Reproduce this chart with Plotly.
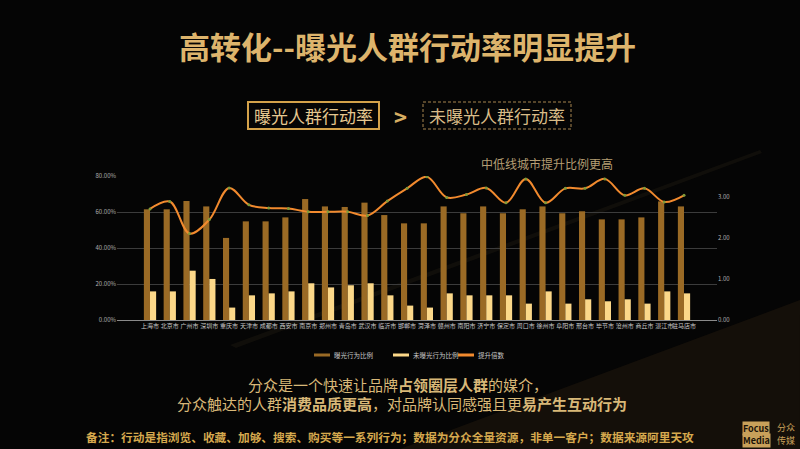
import plotly.graph_objects as go

# city names along the x axis
cities = [
    "上海市", "北京市", "广州市", "深圳市", "重庆市", "天津市", "成都市",
    "西安市", "南京市", "郑州市", "青岛市", "武汉市", "临沂市", "邯郸市",
    "菏泽市", "赣州市", "南阳市", "济宁市", "保定市", "周口市", "徐州市",
    "阜阳市", "邢台市", "毕节市", "沧州市", "商丘市", "湛江市", "驻马店市",
]

# 曝光行为比例 (%)
exposed = [
    61.5, 61.5, 66.1, 63.1, 45.6, 54.8, 54.8, 57.0, 67.2, 63.1, 62.8, 65.2, 58.3, 53.7,
    53.7, 63.1, 59.3, 63.1, 59.3, 61.5, 63.1, 59.3, 60.4, 55.9, 55.9, 57.0, 65.9, 63.1,
]

# 未曝光行为比例 (%)
unexposed = [
    15.9, 15.9, 27.4, 22.8, 6.9, 13.7, 14.8, 15.9, 20.4, 18.1, 19.3, 20.4, 13.7, 8.0,
    6.9, 14.8, 13.7, 13.7, 13.7, 9.1, 15.9, 9.1, 11.5, 10.4, 11.5, 9.1, 15.9, 14.8,
]

# 提升倍数
lift = [
    2.70, 2.88, 2.10, 2.44, 3.21, 2.80, 2.72, 2.71, 2.63, 2.63, 2.63, 2.54, 2.89, 3.20,
    3.48, 2.98, 3.05, 3.21, 2.85, 3.43, 2.85, 3.20, 3.20, 3.43, 3.03, 3.20, 2.87, 3.03,
]

left_ticks = [0, 20, 40, 60, 80]
right_ticks = [0, 1, 2, 3]
series_names = ["曝光行为比例", "未曝光行为比例", "提升倍数"]

DARK_GOLD = "#9A6A25"
LIGHT_GOLD = "#FCD889"
ORANGE = "#F28A2E"
FONT = "Noto Sans CJK SC"

# plot area in page pixels (paper coords are relative to it)
PL, PR, PT, PB = 117, 717, 176, 320


def px(x):
    return (x - PL) / (PR - PL)


def py(y):
    return (PB - y) / (PB - PT)


fig = go.Figure()

fig.add_trace(go.Bar(
    x=cities, y=exposed, name=series_names[0],
    marker=dict(color=DARK_GOLD, line=dict(width=0)),
))
fig.add_trace(go.Bar(
    x=cities, y=unexposed, name=series_names[1],
    marker=dict(color=LIGHT_GOLD, line=dict(width=0)),
))
fig.add_trace(go.Scatter(
    x=cities, y=lift, name=series_names[2], yaxis="y2",
    mode="lines+markers",
    line=dict(color=ORANGE, width=2, shape="spline", smoothing=1.0),
    marker=dict(color="#7E9A3A", size=3),
))


def poly(points):
    return "M " + " L ".join(f"{px(x):.4f} {py(y):.4f}" for x, y in points) + " Z"


shapes = [
    # warm glow bottom right
    dict(type="path", xref="paper", yref="paper", layer="below",
         path=poly([(400, 449), (800, 300), (800, 449)]),
         fillcolor="rgba(110,80,35,0.14)", line=dict(width=0)),
    # faint light streak
    dict(type="path", xref="paper", yref="paper", layer="below",
         path=poly([(230, 345), (760, 150), (762, 153), (236, 348)]),
         fillcolor="rgba(200,170,110,0.06)", line=dict(width=0)),
    # boxes around the comparison labels
    dict(type="rect", xref="paper", yref="paper",
         x0=px(248), x1=px(379), y0=py(129), y1=py(102),
         line=dict(color="#D4A24A", width=2), fillcolor="rgba(0,0,0,0)"),
    dict(type="rect", xref="paper", yref="paper",
         x0=px(423), x1=px(571), y0=py(129), y1=py(102),
         line=dict(color="#A88650", width=1, dash="3px,2px"), fillcolor="rgba(0,0,0,0)"),
]

# hand-drawn legend: thin line icons like the original
legend_x = [314, 393, 458]
legend_colors = [DARK_GOLD, LIGHT_GOLD, ORANGE]
for lx, col in zip(legend_x, legend_colors):
    shapes.append(dict(type="line", xref="paper", yref="paper",
                       x0=px(lx), x1=px(lx + 16), y0=py(355), y1=py(355),
                       line=dict(color=col, width=3)))


def ann(text, x, y, size, color, bold=False, xanchor="center", **kw):
    if bold:
        text = f"<b>{text}</b>"
    return dict(text=text, x=px(x), y=py(y), xref="paper", yref="paper",
                xanchor=xanchor, yanchor="middle",
                showarrow=False, font=dict(size=size, color=color, family=FONT), **kw)


annotations = [
    ann("高转化--曝光人群行动率明显提升", 407, 45, 31, "#DDB46C", bold=True),
    ann("曝光人群行动率", 313, 116, 17, "#E6C890"),
    ann(">", 400, 116, 22, "#D8AE62", bold=True),
    ann("未曝光人群行动率", 497, 116, 17, "#D9BC88"),
    ann("中低线城市提升比例更高", 547, 163, 12, "#B59E74"),
    ann("分众是一个快速让品牌<b>占领圈层人群</b>的媒介，", 398, 384, 15, "#D8B878"),
    ann("分众触达的人群<b>消费品质更高</b>，对品牌认同感强且更<b>易产生互动行为</b>", 402, 403, 15,
        "#D8B878"),
    ann("备注：行动是指浏览、收藏、加够、搜索、购买等一系列行为；数据为分众全量资源，非单一客户；数据来源阿里天攻",
        390, 436, 11.7, "#D6A94E", bold=True),
    ann("<b>Focus</b>", 756, 428, 9, "#1a1208", bgcolor="#C8A05A", borderpad=0),
    ann("<b>Media</b>", 756, 440, 9, "#1a1208", bgcolor="#C8A05A", borderpad=0),
    ann("分众", 786, 427, 9, "#C8A05A"),
    ann("传媒", 786, 440, 9, "#C8A05A"),
]
for lx, name in zip(legend_x, series_names):
    annotations.append(ann(name, lx + 18, 355, 6.5, "#C8C8C8", xanchor="left"))

fig.update_layout(
    width=800, height=449,
    margin=dict(l=PL, r=800 - PR, t=PT, b=449 - PB),
    paper_bgcolor="#050505",
    plot_bgcolor="rgba(0,0,0,0)",
    font=dict(family=FONT, color="#BBBBBB"),
    showlegend=False,
    barmode="group",
    bargap=0.38,
    bargroupgap=0,
    xaxis=dict(
        showgrid=False, showline=True, linecolor="#8A8A8A", linewidth=1,
        tickfont=dict(size=6, color="#C8C8C8"), ticks="",
        tickangle=0,
    ),
    yaxis=dict(
        range=[0, 80], tickvals=left_ticks,
        ticktext=[f"{v:.2f}%" for v in left_ticks],
        showgrid=True, gridcolor="#3C3C3C", gridwidth=1, zeroline=False,
        tickfont=dict(size=6, color="#B0B0B0"), showline=False,
    ),
    yaxis2=dict(
        range=[0, 3.5], tickvals=right_ticks,
        ticktext=[f"{v:.2f}" for v in right_ticks],
        overlaying="y", side="right", showgrid=False, zeroline=False,
        tickfont=dict(size=6, color="#B0B0B0"), showline=False,
    ),
    shapes=shapes,
    annotations=annotations,
)

fig.write_html(
    "out.html",
    config={"displayModeBar": False},
    post_script="document.body.style.margin='0';document.body.style.overflow='hidden';",
)
